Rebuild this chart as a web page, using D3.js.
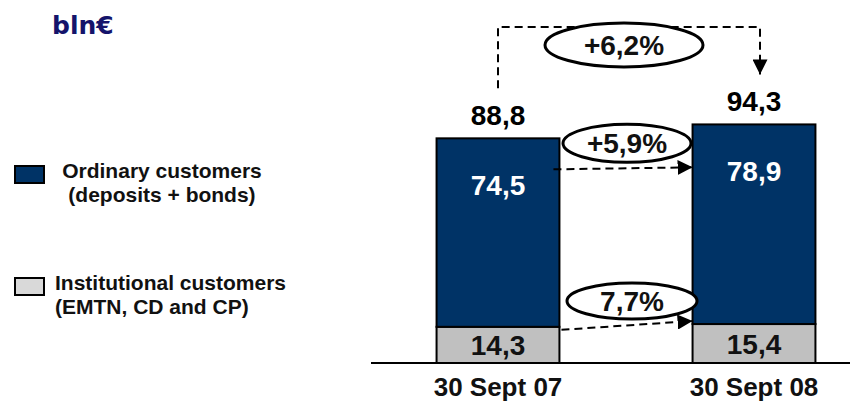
<!DOCTYPE html>
<html>
<head>
<meta charset="utf-8">
<script src="https://cdn.jsdelivr.net/npm/d3@7"></script>
<style>
  body { margin: 0; background: #fff; }
  svg { display: block; font-family: "Liberation Sans", Arial, sans-serif; font-weight: bold; }
</style>
</head>
<body>
<svg id="chart" width="858" height="405"></svg>
<script>
// data (bln€)
const dates = ["30 Sept 07", "30 Sept 08"];
const institutional = [14.3, 15.4];
const ordinary = [74.5, 78.9];
const totals = [88.8, 94.3];
const growthLabels = ["+6,2%", "+5,9%", "7,7%"]; // total, ordinary, institutional
const legendItems = [
  { lines: ["Ordinary customers", "(deposits + bonds)"], fill: "#003366" },
  { lines: ["Institutional customers", "(EMTN, CD and CP)"], fill: "#d9d9d9" }
];

const fmt = (v) => v.toFixed(1).replace(".", ",");
const svg = d3.select("#chart");

// scales
const x = d3.scaleBand().domain(dates).range([370, 882]).paddingInner(0.52).paddingOuter(0.26);
const y = d3.scaleLinear().domain([0, 100]).range([363, 110]);
const cx = (i) => x(dates[i]) + x.bandwidth() / 2;

// arrow head
svg.append("defs").append("marker")
  .attr("id", "head")
  .attr("markerUnits", "userSpaceOnUse")
  .attr("viewBox", "0 0 15 15")
  .attr("refX", 15).attr("refY", 7.5)
  .attr("markerWidth", 15).attr("markerHeight", 15)
  .attr("orient", "auto")
  .append("path").attr("d", "M0,0 L15,7.5 L0,15 Z").attr("fill", "#000");

// unit title
svg.append("text")
  .attr("x", 52).attr("y", 34)
  .attr("font-family", "DejaVu Sans, Verdana, sans-serif")
  .attr("font-size", 25)
  .attr("fill", "#14146b")
  .text("bln€");

// legend
const leg = svg.append("g").selectAll("g").data(legendItems).enter().append("g")
  .attr("transform", (d, i) => `translate(15,${i === 0 ? 166 : 278})`);
leg.append("rect")
  .attr("width", 29).attr("height", 17)
  .attr("fill", (d) => d.fill)
  .attr("stroke", "#000").attr("stroke-width", 2);
leg.append("text")
  .attr("font-size", 21)
  .attr("fill", "#111")
  .attr("text-anchor", (d, i) => (i === 0 ? "middle" : "start"))
  .attr("x", (d, i) => (i === 0 ? 147 : 40))
  .selectAll("tspan").data((d) => d.lines).enter().append("tspan")
  .attr("x", function () { return d3.select(this.parentNode).attr("x"); })
  .attr("y", (d, j) => 12 + j * 24)
  .text((d) => d);

// baseline
svg.append("line")
  .attr("x1", 371).attr("x2", 850)
  .attr("y1", y(0)).attr("y2", y(0))
  .attr("stroke", "#000").attr("stroke-width", 2);

// stacked bars
const bars = svg.append("g").selectAll("g").data(dates).enter().append("g");
bars.append("rect")
  .attr("x", (d) => x(d)).attr("width", x.bandwidth())
  .attr("y", (d, i) => y(institutional[i]))
  .attr("height", (d, i) => y(0) - y(institutional[i]))
  .attr("fill", "#c0c0c0").attr("stroke", "#000").attr("stroke-width", 2);
bars.append("rect")
  .attr("x", (d) => x(d)).attr("width", x.bandwidth())
  .attr("y", (d, i) => y(institutional[i] + ordinary[i]))
  .attr("height", (d, i) => y(0) - y(ordinary[i]))
  .attr("fill", "#003366").attr("stroke", "#000").attr("stroke-width", 2);

// value labels
bars.append("text")
  .attr("x", (d, i) => cx(i)).attr("y", (d, i) => y(totals[i]) - 13)
  .attr("text-anchor", "middle").attr("font-size", 28).attr("fill", "#000")
  .text((d, i) => fmt(totals[i]));
bars.append("text")
  .attr("x", (d, i) => cx(i)).attr("y", (d, i) => y(totals[i]) + 57)
  .attr("text-anchor", "middle").attr("font-size", 28).attr("fill", "#fff")
  .text((d, i) => fmt(ordinary[i]));
bars.append("text")
  .attr("x", (d, i) => cx(i))
  .attr("y", (d, i) => (y(institutional[i]) + y(0)) / 2)
  .attr("dy", "0.36em")
  .attr("text-anchor", "middle").attr("font-size", 28).attr("fill", "#111")
  .text((d, i) => fmt(institutional[i]));

// category labels
svg.append("g").selectAll("text").data(dates).enter().append("text")
  .attr("x", (d, i) => cx(i)).attr("y", 396)
  .attr("text-anchor", "middle").attr("font-size", 26).attr("fill", "#111")
  .text((d) => d);

// growth arrows
const left = x(dates[0]) + x.bandwidth();
const right = x(dates[1]);
const mid = (left + right) / 2;
const dashed = (sel) => sel.attr("fill", "none").attr("stroke", "#000")
  .attr("stroke-width", 2).attr("stroke-dasharray", "8,5");

const bracketTop = 27;
svg.append("path")
  .attr("d", `M${cx(0)},${y(totals[0]) - 50} V${bracketTop} H${cx(1) + 6} V${y(totals[1]) - 50}`)
  .call(dashed).attr("marker-end", "url(#head)");
svg.append("path")
  .attr("d", `M${left - 6},${y(totals[0]) + 31} L${right},${y(totals[0]) + 29}`)
  .call(dashed).attr("marker-end", "url(#head)");
svg.append("path")
  .attr("d", `M${left + 2},${y(institutional[0]) + 3} L${right},${y(institutional[1]) - 3}`)
  .call(dashed).attr("marker-end", "url(#head)");

// growth ovals
const ovals = [
  { cx: mid - 2, cy: 45, rx: 79, ry: 22 },
  { cx: mid + 1, cy: y(totals[0]) + 5, rx: 64, ry: 19 },
  { cx: mid + 6, cy: y(institutional[1]) - 23, rx: 65, ry: 18 }
];
const og = svg.append("g").selectAll("g").data(growthLabels).enter().append("g");
og.append("ellipse")
  .attr("cx", (d, i) => ovals[i].cx).attr("cy", (d, i) => ovals[i].cy)
  .attr("rx", (d, i) => ovals[i].rx).attr("ry", (d, i) => ovals[i].ry)
  .attr("fill", "#fff").attr("stroke", "#000").attr("stroke-width", 3);
og.append("text")
  .attr("x", (d, i) => ovals[i].cx).attr("y", (d, i) => ovals[i].cy)
  .attr("dy", "0.36em")
  .attr("text-anchor", "middle").attr("font-size", 28).attr("fill", "#111")
  .text((d) => d);
</script>
</body>
</html>
